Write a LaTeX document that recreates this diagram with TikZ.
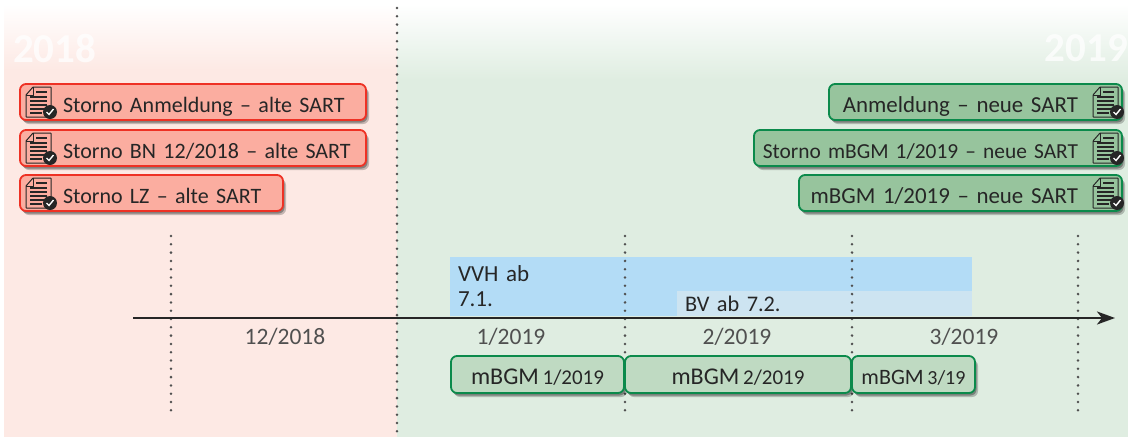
\documentclass[tikz,border=0pt]{standalone}
\usepackage{fontspec}
\setmainfont[WordSpace=0.75]{Carlito}
\usetikzlibrary{positioning,arrows.meta}

\definecolor{redback}{HTML}{FDE9E4}
\definecolor{greenback}{HTML}{DFEDE1}
\definecolor{redfill}{HTML}{FBADA0}
\definecolor{redline}{HTML}{EE3124}
\definecolor{greenfill}{HTML}{97C49D}
\definecolor{greenpale}{HTML}{BFDAC2}
\definecolor{greenline}{HTML}{0B8A4B}
\definecolor{bluedark}{HTML}{B3DCF6}
\definecolor{bluepale}{HTML}{CDE4F1}
\definecolor{inktext}{HTML}{262626}
\definecolor{monthtext}{HTML}{505050}

\newcommand{\sized}[2]{{\fontsize{#1}{25}\selectfont #2}}

\tikzset{
	docicon/.pic={
		\draw[line width=1pt,draw=inktext,rounded corners=.5pt]
			(6,-7) -- (13,-15) -- (31,-15) -- (31,15) -- (6,15) -- cycle;
		\draw[line width=1pt,draw=inktext] (13,-15) -- (13,-7) -- (6,-7);
		\draw[line width=1.8pt,draw=inktext]
			(16,-10) -- (27,-10)
			(10,-5) -- (27,-5)
			(10,-1) -- (27,-1)
			(10,3) -- (27,3)
			(10,7) -- (25,7)
			(10,11) -- (22,11);
		\fill[inktext] (30,10) circle (7);
		\draw[white,line width=1.4pt] (26.5,10) -- (29,12.5) -- (33.5,7);
	}
}

\begin{document}
\begin{tikzpicture}[x=1pt,y=-1pt,
					font=\fontsize{22}{25}\selectfont,
					text=inktext,
					box/.style={rectangle,rounded corners=6pt,line width=1.8pt,outer sep=0pt,
						minimum height=36pt,inner xsep=6pt,inner ysep=0pt,
						text height=24pt,text depth=2.5pt,
						preaction={draw=none,fill=black,opacity=.22,transform canvas={shift={(3pt,-4pt)}}},
						preaction={draw=none,fill=black,opacity=.3,transform canvas={shift={(1.5pt,-2.5pt)}}}},
					red box/.style={box,draw=redline,fill=redfill,align=left,anchor=north west},
					green box/.style={box,draw=greenline,fill=greenfill,align=right,anchor=north east},
					month box/.style={box,draw=greenline,fill=greenpale,minimum height=37pt,inner xsep=0pt,
						text height=21.5pt,text depth=2.5pt},
					bar/.style={rectangle,outer sep=0pt,inner xsep=8pt,inner ysep=0pt,align=left,anchor=north west},
					month/.style={text=monthtext,font=\fontsize{23.5}{25}\selectfont},
					year/.style={text=white,opacity=.75,inner xsep=0pt,font=\fontsize{41}{46}\selectfont\bfseries},
					dots/.style={draw=monthtext,line width=2.8pt,line cap=round,dash pattern=on 0pt off 8.3pt}]

  \useasboundingbox (0,0) rectangle (1128,437);

  % background
  \fill[redback] (4,70) rectangle (397,437);
  \shade[top color=white,bottom color=redback] (4,4) rectangle (397,70);
  \fill[greenback] (397,80) rectangle (1128,437);
  \shade[top color=white,bottom color=greenback] (397,4) rectangle (1128,80);

  \node[year,anchor=west] (Y18) at (13,48) {2018};
  \node[year,anchor=east] (Y19) at (1128,48) {2019};

  % blue bars
  \node[bar,fill=bluedark,minimum height=59pt,text width=506pt,font=\fontsize{23}{25}\selectfont] (VVH) at (450,257) {VVH ab\\7.1.};
  \node[bar,fill=bluepale,minimum height=25pt,text width=279pt,text height=17pt,text depth=2pt,font=\fontsize{22.3}{25}\selectfont] (BV) at (677,291) {BV ab 7.2.};

  % time axis and dotted lines
  \coordinate (Start) at (133,318);
  \coordinate (End) at (1115,318);
  \coordinate (Da) at (397,8);
  \coordinate (Db) at (397,437);
  \coordinate (Ea) at (171,236);
  \coordinate (Eb) at (171,415);
  \coordinate (Fa) at (625,236);
  \coordinate (Fb) at (625,415);
  \coordinate (Ga) at (852,236);
  \coordinate (Gb) at (852,415);
  \coordinate (Ha) at (1078,236);
  \coordinate (Hb) at (1078,415);

  \path[dots]
    (Da) edge (Db)
    (Ea) edge (Eb)
    (Fa) edge (Fb)
    (Ga) edge (Gb)
    (Ha) edge (Hb);

  \draw[-{Stealth[length=18pt,width=13pt,inset=5pt]},line width=2.4pt,draw=inktext] (Start) -- (End);

  \node[month] (M12) at (285,337) {12/2018};
  \node[month] (M1) at (511,337) {1/2019};
  \node[month] (M2) at (737,337) {2/2019};
  \node[month] (M3) at (964,337) {3/2019};

  % month boxes
  \node[month box,anchor=north west,minimum width=173pt] (BGMa) at (451,356) {\sized{24}{mBGM} \sized{21}{1/2019}};
  \node[month box,minimum width=226pt] (BGMb) [right=1pt of BGMa] {\sized{24}{mBGM} \sized{21}{2/2019}};
  \node[month box,minimum width=123pt] (BGMc) [right=1pt of BGMb] {\sized{22}{mBGM}\,\sized{20}{3/19}};

  % old SART
  \node[red box,text width=334pt] (RA) at (20,84) {\hspace*{37pt}Storno Anmeldung – alte SART};
  \node[red box,text width=334pt] (RB) [below=10pt of RA.south west,anchor=north west] {\hspace*{37pt}Storno BN 12/2018 – alte SART};
  \node[red box,text width=251pt] (RC) [below=9pt of RB.south west,anchor=north west] {\hspace*{37pt}Storno LZ – alte SART};
  \pic at (RA.west) {docicon};
  \pic at (RB.west) {docicon};
  \pic at (RC.west) {docicon};

  % new SART
  \node[green box,text width=281pt,font=\fontsize{22.9}{25}\selectfont] (GA) at (1122,84) {Anmeldung – neue SART\rule{38pt}{0pt}};
  \node[green box,text width=356pt,font=\fontsize{21.4}{25}\selectfont] (GB) [below=10pt of GA.south east,anchor=north east] {Storno mBGM 1/2019 – neue SART\rule{38pt}{0pt}};
  \node[green box,text width=311pt,font=\fontsize{22.9}{25}\selectfont] (GC) [below=9pt of GB.south east,anchor=north east] {mBGM 1/2019 – neue SART\rule{38pt}{0pt}};
  \pic at ([xshift=-35pt]GA.east) {docicon};
  \pic at ([xshift=-35pt]GB.east) {docicon};
  \pic at ([xshift=-35pt]GC.east) {docicon};
\end{tikzpicture}
\end{document}
